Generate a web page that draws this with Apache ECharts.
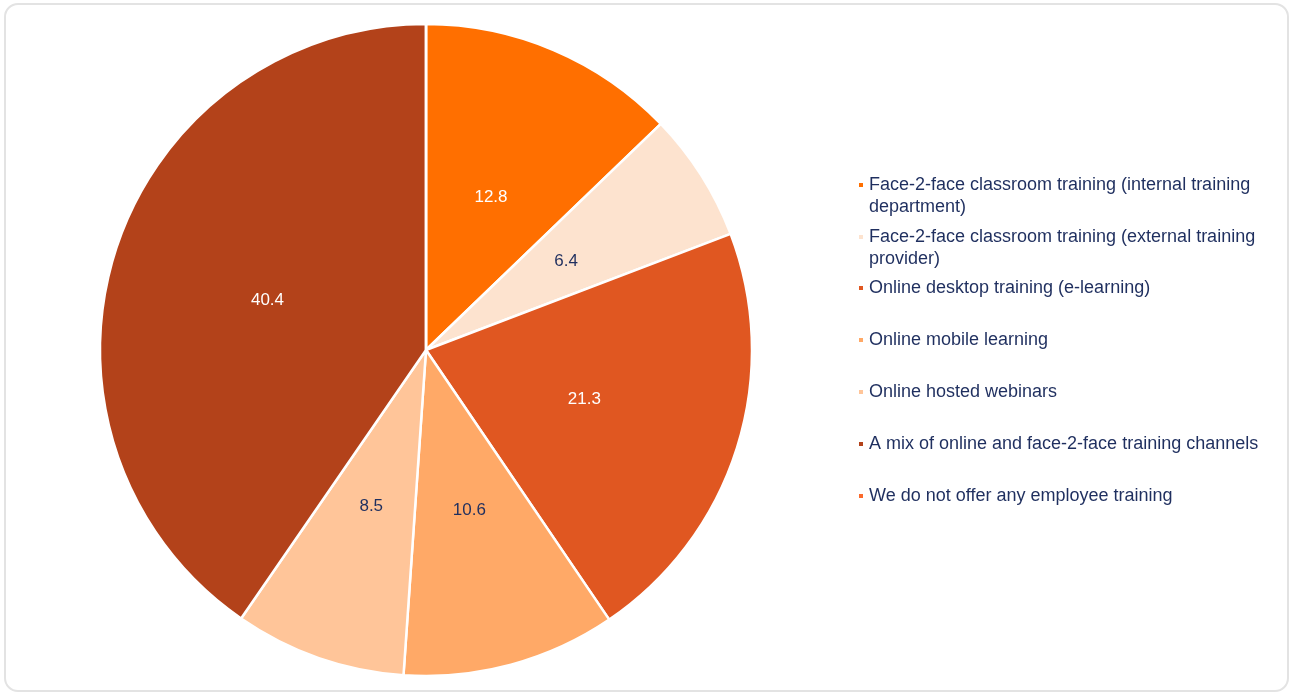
<!DOCTYPE html>
<html>
<head>
<meta charset="utf-8">
<script src="https://cdn.jsdelivr.net/npm/echarts@6/dist/echarts.min.js"></script>
<style>
  html, body { margin: 0; padding: 0; background: #ffffff; }
  #chart { position: absolute; left: 0; top: 0; width: 1290px; height: 696px; }
  #frame {
    position: absolute; left: 4px; top: 3px; width: 1285px; height: 689px;
    box-sizing: border-box; border: 2px solid #e3e3e3; border-radius: 14px;
    pointer-events: none;
  }
</style>
</head>
<body>
<div id="chart"></div>
<div id="frame"></div>
<script>
// Training channels offered to employees (share, %)
const categories = [
  'Face-2-face classroom training (internal training department)',
  'Face-2-face classroom training (external training provider)',
  'Online desktop training (e-learning)',
  'Online mobile learning',
  'Online hosted webinars',
  'A mix of online and face-2-face training channels',
  'We do not offer any employee training'
];
const values = [12.8, 6.4, 21.3, 10.6, 8.5, 40.4, 0];
// Legend text, wrapped the way it is laid out next to the pie
const legendLines = [
  ['Face-2-face classroom training (internal training', 'department)'],
  ['Face-2-face classroom training (external training', 'provider)'],
  ['Online desktop training (e-learning)'],
  ['Online mobile learning'],
  ['Online hosted webinars'],
  ['A mix of online and face-2-face training channels'],
  ['We do not offer any employee training']
];
const colors = ['#ff6f00', '#fde3cf', '#e05721', '#ffa967', '#ffc599', '#b3421a', '#fb6a2c'];
const labelColors = ['#ffffff', '#1f2f5f', '#ffffff', '#1f2f5f', '#1f2f5f', '#ffffff', '#1f2f5f'];

const TEXT = '#1f2f5f';
const FONT = '"Liberation Sans", Arial, sans-serif';
const LINE_H = 22;
const MARK = 6;

const chart = echarts.init(document.getElementById('chart'), null, { renderer: 'canvas' });

// One legend block per entry so every entry sits on a fixed 52px step.
// Wrapped entries use a tall marker box whose square sits beside the first line.
const legends = categories.map((name, i) => {
  const lines = legendLines[i];
  const boxH = lines.length * LINE_H;
  const sq0 = LINE_H / 2 - MARK / 2;
  const icon = lines.length > 1
    ? `path://M0,0L0,${boxH}M0,${sq0}L${MARK},${sq0}L${MARK},${sq0 + MARK}L0,${sq0 + MARK}Z`
    : 'rect';
  const markerY = 184 + i * 52;
  return {
    orient: 'vertical',
    left: 857,
    top: markerY - LINE_H / 2,
    padding: 0,
    itemWidth: MARK,
    itemHeight: lines.length > 1 ? boxH : MARK,
    icon,
    selectedMode: false,
    data: [name],
    formatter: () => lines.join('\n'),
    textStyle: {
      color: TEXT,
      fontFamily: FONT,
      fontSize: 18,
      lineHeight: LINE_H
    }
  };
});

chart.setOption({
  animation: false,
  color: colors,
  legend: legends,
  series: [{
    type: 'pie',
    center: [426, 350],
    radius: [0, 326],
    startAngle: 90,
    clockwise: true,
    avoidLabelOverlap: false,
    itemStyle: { borderColor: '#ffffff', borderWidth: 2.5 },
    label: {
      show: true,
      position: 'inside',
      fontFamily: FONT,
      fontSize: 17,
      formatter: p => p.value.toFixed(1)
    },
    labelLine: { show: false },
    emphasis: { disabled: true },
    data: categories.map((name, i) => ({
      name,
      value: values[i],
      label: values[i] > 0 ? { color: labelColors[i] } : { show: false }
    }))
  }]
});
</script>
</body>
</html>
